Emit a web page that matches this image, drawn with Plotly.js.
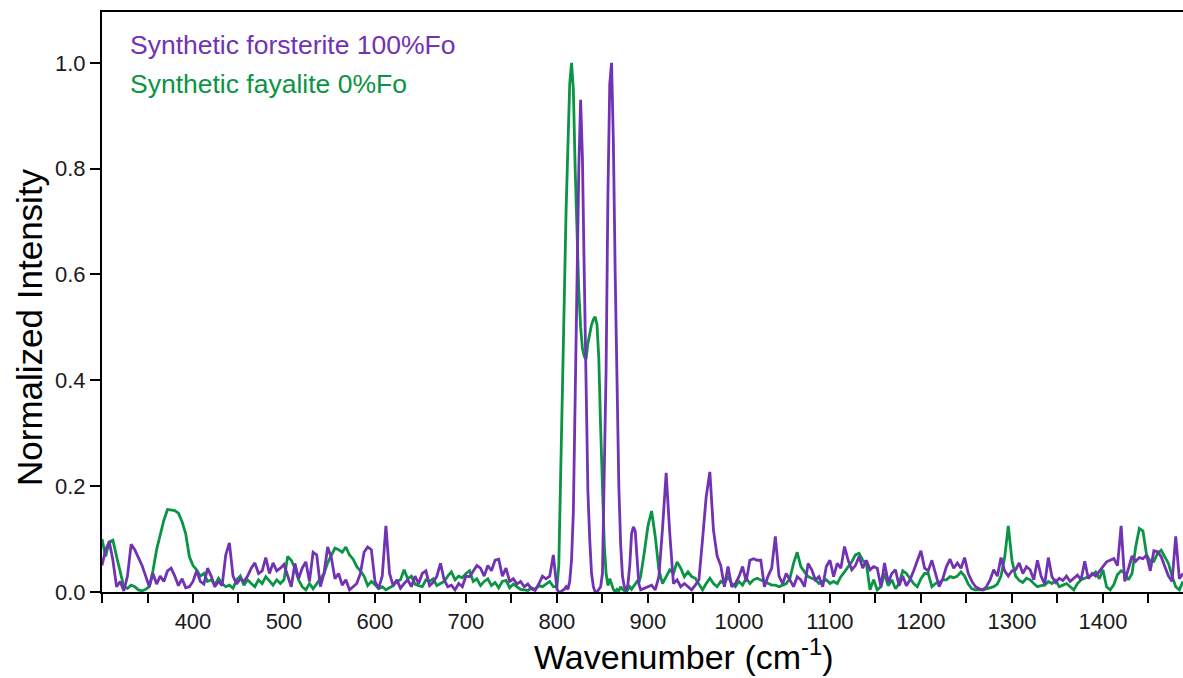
<!DOCTYPE html>
<html>
<head>
<meta charset="utf-8">
<script src="https://cdn.plot.ly/plotly-3.0.1.min.js"></script>
<style>
  html, body { margin: 0; padding: 0; background: #ffffff; }
  #chart { width: 1183px; height: 678px; }
</style>
</head>
<body>
<div id="chart"></div>
<script>
// Wavenumber grid (cm-1)
const wavenumber = [
  300,304,308,312,316,320,324,328,332,336,340,344,348,352,356,360,364,368,372,376,
  380,384,388,392,396,400,404,408,412,416,420,424,428,432,436,440,444,448,452,456,
  460,464,468,472,476,480,484,488,492,496,
  500,504,508,512,516,520,524,528,532,536,540,544,548,552,556,560,564,568,572,576,
  580,584,588,592,596,600,604,608,612,616,620,624,628,632,636,640,644,648,652,656,
  660,664,668,672,676,680,684,688,692,696,700,704,
  708,712,716,720,724,728,732,736,740,744,748,752,756,760,764,768,772,776,780,784,
  788,792,796,800,
  802,804,806,808,810,812,814,816,818,820,822,824,826,828,830,832,834,836,838,840,
  842,844,846,848,850,852,854,856,858,860,862,864,866,868,870,872,874,876,878,880,
  882,884,886,888,890,892,
  896,900,904,908,912,916,920,924,928,932,936,940,944,948,952,956,960,964,968,972,
  976,980,984,988,992,996,1000,1004,1008,1012,1016,1020,1024,1028,1032,1036,1040,1044,1048,1052,
  1056,1060,1064,1068,1072,1076,1080,1084,1088,1092,1096,1100,1104,1108,1112,1116,1120,1124,1128,1132,
  1136,1140,
  1144,1148,1152,1156,1160,1164,1168,1172,1176,1180,1184,1188,1192,1196,1200,1204,1208,1212,1216,1220,
  1224,1228,1232,1236,1240,1244,1248,1252,1256,1260,1264,1268,1272,1276,1280,1284,1288,1292,1296,1300,
  1304,1308,1312,1316,1320,
  1324,1328,1332,1336,1340,1344,1348,1352,1356,1360,1364,1368,1372,1376,1380,1384,1388,1392,1396,1400,
  1404,1408,1412,1416,1420,1424,1428,1432,1436,1440,1444,1448,1452,1456,1460,1464,1468,1472,1476,1480,
  1484,1488
];

// Synthetic forsterite 100%Fo (normalized intensity)
const forsterite = [
  0.05,0.08,0.095,0.06,0.01,0.02,0.002,0.03,0.09,0.08,0.065,0.05,0.03,0.01,0.035,0.015,0.03,0.02,0.04,0.045,
  0.03,0.012,0.025,0.008,0.01,0.02,0.04,0.02,0.015,0.045,0.03,0.01,0.02,0.012,0.07,0.093,0.03,0.015,0.025,0.02,
  0.03,0.045,0.055,0.035,0.04,0.065,0.035,0.055,0.04,0.045,
  0.052,0.03,0.01,0.054,0.025,0.045,0.057,0.02,0.075,0.07,0.01,0.035,0.085,0.065,0.025,0.035,0.013,0.023,0.004,0.01,
  0.016,0.035,0.075,0.085,0.08,0.02,0.007,0.03,0.125,0.035,0.012,0.023,0.007,0.016,0.023,0.01,0.03,0.016,0.035,0.04,
  0.012,0.018,0.03,0.054,0.023,0.01,0.013,0.004,0.016,0.01,0.03,0.029,
  0.04,0.05,0.045,0.03,0.05,0.04,0.06,0.062,0.03,0.045,0.02,0.025,0.015,0.02,0.01,0.015,0.006,0.003,0.015,0.03,
  0.025,0.03,0.07,0.005,
  0.0,0.0,0.003,0.005,0.01,0.005,0.02,0.06,0.15,0.4,0.6,0.8,0.93,0.82,0.6,0.38,0.19,0.1,0.035,0.01,
  0.0,0.0,0.005,0.01,0.035,0.2,0.42,0.75,0.96,1.0,0.85,0.6,0.36,0.2,0.09,0.03,0.01,0.003,0.015,0.05,
  0.11,0.123,0.115,0.055,0.015,0.004,
  0.007,0.01,0.013,0.004,0.029,0.12,0.225,0.11,0.016,0.023,0.01,0.016,0.01,0.004,0.013,0.023,0.1,0.18,0.227,0.117,
  0.068,0.05,0.01,0.048,0.01,0.016,0.029,0.048,0.02,0.06,0.063,0.06,0.06,0.01,0.03,0.045,0.105,0.03,0.016,0.035,
  0.023,0.01,0.029,0.023,0.01,0.054,0.042,0.023,0.029,0.01,0.048,0.06,0.029,0.054,0.045,0.086,0.06,0.042,0.05,0.067,
  0.045,0.06,
  0.042,0.048,0.045,0.01,0.055,0.018,0.035,0.042,0.012,0.03,0.012,0.023,0.04,0.06,0.078,0.045,0.04,0.06,0.035,0.01,
  0.025,0.048,0.062,0.045,0.055,0.045,0.065,0.035,0.02,0.01,0.006,0.004,0.01,0.023,0.042,0.03,0.065,0.04,0.03,0.04,
  0.042,0.055,0.035,0.048,0.042,
  0.023,0.06,0.03,0.015,0.065,0.029,0.018,0.026,0.022,0.03,0.02,0.026,0.032,0.023,0.058,0.025,0.035,0.03,0.038,0.048,
  0.057,0.06,0.063,0.05,0.125,0.02,0.045,0.068,0.058,0.065,0.063,0.07,0.04,0.078,0.076,0.067,0.048,0.03,0.02,0.105,
  0.025,0.035
];

// Synthetic fayalite 0%Fo (normalized intensity)
const fayalite = [
  0.10,0.067,0.095,0.098,0.067,0.04,0.01,0.007,0.013,0.01,0.004,0.002,0.005,0.01,0.04,0.08,0.11,0.136,0.156,0.155,
  0.154,0.149,0.133,0.11,0.067,0.05,0.042,0.03,0.035,0.02,0.023,0.013,0.026,0.016,0.01,0.013,0.007,0.023,0.03,0.013,
  0.023,0.016,0.01,0.023,0.016,0.029,0.02,0.013,0.023,0.016,
  0.023,0.067,0.06,0.045,0.023,0.01,0.004,0.016,0.006,0.015,0.026,0.035,0.055,0.07,0.083,0.08,0.075,0.085,0.07,0.062,
  0.048,0.04,0.03,0.012,0.02,0.014,0.006,0.01,0.004,0.008,0.012,0.02,0.023,0.042,0.025,0.03,0.015,0.012,0.01,0.023,
  0.02,0.025,0.012,0.016,0.02,0.03,0.038,0.023,0.03,0.027,0.035,0.04,
  0.02,0.025,0.012,0.02,0.025,0.012,0.018,0.008,0.02,0.022,0.008,0.015,0.01,0.005,0.004,0.003,0.008,0.005,0.012,0.01,
  0.015,0.02,0.01,0.01,
  0.05,0.2,0.38,0.55,0.72,0.86,0.96,1.0,0.95,0.8,0.68,0.57,0.5,0.46,0.445,0.44,0.47,0.49,0.505,0.515,
  0.52,0.505,0.44,0.31,0.18,0.09,0.035,0.012,0.025,0.015,0.005,0.0,0.005,0.002,0.01,0.005,0.003,0.0,0.005,0.01,
  0.005,0.01,0.015,0.02,0.018,0.03,
  0.075,0.125,0.153,0.105,0.042,0.016,0.029,0.042,0.035,0.057,0.045,0.029,0.038,0.029,0.026,0.016,0.004,0.016,0.026,0.016,
  0.01,0.02,0.016,0.029,0.016,0.01,0.02,0.013,0.026,0.016,0.023,0.026,0.023,0.02,0.016,0.013,0.013,0.01,0.013,0.016,
  0.026,0.054,0.075,0.048,0.038,0.029,0.026,0.023,0.016,0.02,0.023,0.016,0.02,0.016,0.029,0.038,0.048,0.057,0.07,0.073,
  0.06,0.054,
  0.004,0.023,0.004,0.01,0.035,0.012,0.023,0.006,0.016,0.04,0.035,0.026,0.016,0.01,0.025,0.035,0.035,0.01,0.016,0.018,
  0.023,0.023,0.029,0.027,0.03,0.038,0.03,0.015,0.006,0.004,0.004,0.004,0.006,0.008,0.01,0.015,0.03,0.065,0.125,0.06,
  0.03,0.022,0.018,0.026,0.023,
  0.016,0.01,0.012,0.013,0.02,0.016,0.022,0.01,0.013,0.016,0.01,0.004,0.016,0.023,0.026,0.029,0.032,0.038,0.025,0.042,
  0.01,0.004,0.014,0.033,0.04,0.036,0.023,0.035,0.085,0.12,0.115,0.07,0.058,0.058,0.073,0.079,0.067,0.054,0.03,0.01,
  0.004,0.02
];

const seriesNames = ["Synthetic forsterite 100%Fo", "Synthetic fayalite 0%Fo"];

const xTickVals = [400,500,600,700,800,900,1000,1100,1200,1300,1400];
const xTickText = ["400","500","600","700","800","900","1000","1100","1200","1300","1400"];
const yTickVals = [0,0.2,0.4,0.6,0.8,1.0];
const yTickText = ["0.0","0.2","0.4","0.6","0.8","1.0"];

const PURPLE = "#7232b4";
const GREEN = "#0a9444";
const FONT = "Liberation Sans, Arial, Helvetica, sans-serif";

const traces = [
  { x: wavenumber, y: fayalite, type: "scatter", mode: "lines", name: seriesNames[1],
    line: { color: GREEN, width: 2.8 }, showlegend: false },
  { x: wavenumber, y: forsterite, type: "scatter", mode: "lines", name: seriesNames[0],
    line: { color: PURPLE, width: 2.8 }, showlegend: false }
];

const layout = {
  width: 1183, height: 678,
  margin: { l: 102, r: 0, t: 12, b: 86, pad: 0 },
  paper_bgcolor: "#ffffff", plot_bgcolor: "#ffffff",
  font: { family: FONT, color: "#000000", size: 22 },
  showlegend: false,
  xaxis: {
    range: [300, 1488], showgrid: false, zeroline: false,
    showline: true, linecolor: "#000000", linewidth: 2, mirror: true,
    ticks: "outside", ticklen: 9, tickwidth: 2, tickcolor: "#000000",
    tickmode: "array", tickvals: xTickVals, ticktext: xTickText,
    minor: { tick0: 300, dtick: 50, ticks: "outside", ticklen: 9, tickwidth: 2, tickcolor: "#000000", showgrid: false },
    tickfont: { family: FONT, size: 22, color: "#1a1a1a" }
  },
  yaxis: {
    range: [0, 1.096], showgrid: false, zeroline: false,
    showline: true, linecolor: "#000000", linewidth: 2,
    ticks: "outside", ticklen: 10, tickwidth: 2, tickcolor: "#000000",
    tickmode: "array", tickvals: yTickVals, ticktext: yTickText,
    tickfont: { family: FONT, size: 22, color: "#1a1a1a" }
  },
  annotations: [
    { text: "Wavenumber (cm<sup>-1</sup>)", xref: "paper", yref: "paper",
      x: 0.538, y: -0.108, xanchor: "center", yanchor: "middle", showarrow: false,
      font: { family: FONT, size: 34, color: "#000000" } },
    { text: "Normalized Intensity", xref: "paper", yref: "paper",
      x: -0.0666, y: 0.457, xanchor: "center", yanchor: "middle", textangle: -90, showarrow: false,
      font: { family: FONT, size: 35, color: "#000000" } },
    { text: seriesNames[0], xref: "paper", yref: "paper",
      x: 0.0245, y: 0.943, xanchor: "left", yanchor: "middle", showarrow: false,
      font: { family: FONT, size: 26.5, color: PURPLE } },
    { text: seriesNames[1], xref: "paper", yref: "paper",
      x: 0.0245, y: 0.876, xanchor: "left", yanchor: "middle", showarrow: false,
      font: { family: FONT, size: 26.5, color: GREEN } }
  ]
};

Plotly.newPlot("chart", traces, layout, { staticPlot: true, displayModeBar: false });
</script>
</body>
</html>
